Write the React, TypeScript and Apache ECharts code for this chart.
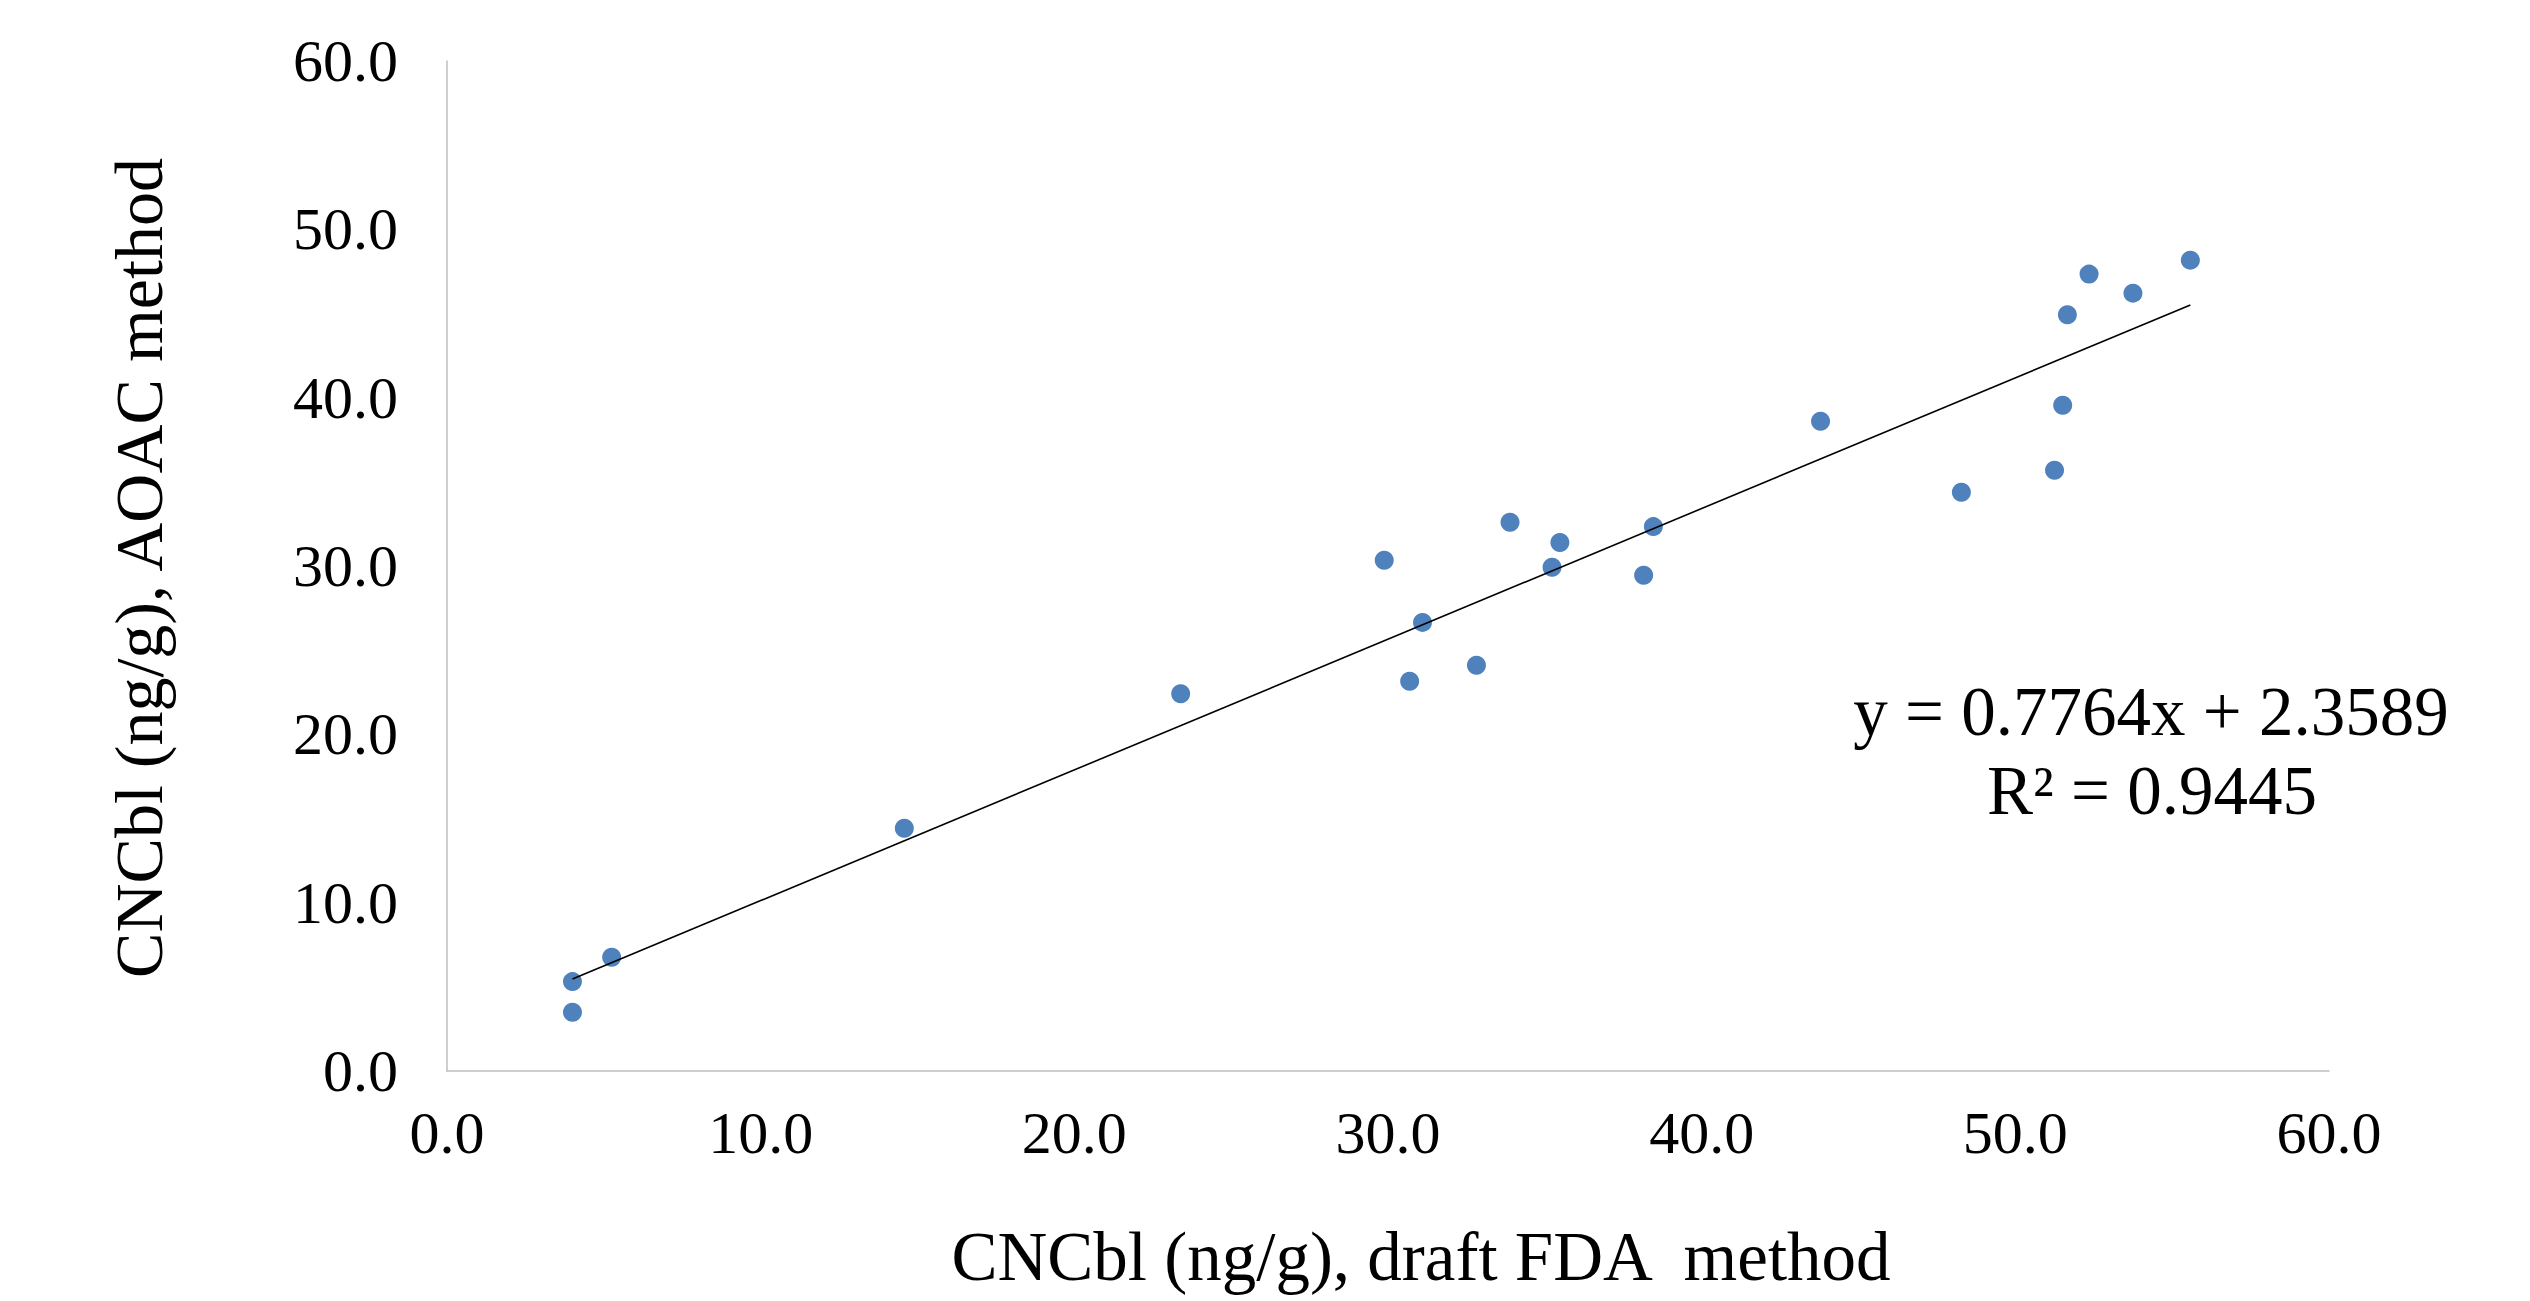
import React, { useEffect, useRef } from "react";
import * as echarts from "echarts";

// Data
const fdaValues: number[] = [4.0, 4.0, 5.25, 14.58, 23.39, 29.88, 30.69, 31.1, 32.82, 33.89, 35.23, 35.48, 38.15, 38.46, 43.79, 48.28, 51.25, 51.51, 51.66, 52.35, 53.75, 55.58];
const aoacValues: number[] = [5.31, 3.49, 6.76, 14.42, 22.41, 30.34, 23.15, 26.65, 24.1, 32.6, 29.92, 31.39, 29.45, 32.34, 38.6, 34.38, 35.69, 39.55, 44.93, 47.34, 46.21, 48.17];

const trendSlope = 0.7764;
const trendIntercept = 2.3589;
const equationLines: string[] = ["y = 0.7764x + 2.3589", "R² = 0.9445"];

const xTitle = "CNCbl (ng/g), draft FDA  method";
const yTitle = "CNCbl (ng/g), AOAC method";

const axisMin = 0;
const axisMax = 60;
const axisInterval = 10;

const FONT = "'Liberation Serif', 'Times New Roman', serif";

export default function App() {
  const ref = useRef<HTMLDivElement>(null);

  useEffect(() => {
    if (!ref.current) return;
    const chart = echarts.init(ref.current, undefined, { renderer: "svg" });

    const points = fdaValues.map((x, i) => [x, aoacValues[i]]);
    const xMinData = Math.min(...fdaValues);
    const xMaxData = Math.max(...fdaValues);
    const trend = [
      [xMinData, trendSlope * xMinData + trendIntercept],
      [xMaxData, trendSlope * xMaxData + trendIntercept],
    ];

    const axisCommon = {
      type: "value" as const,
      min: axisMin,
      max: axisMax,
      interval: axisInterval,
      splitLine: { show: false },
      axisTick: { show: false },
      axisLine: { show: true, lineStyle: { color: "#BFBFBF", width: 1.5 } },
    };

    chart.setOption({
      animation: false,
      backgroundColor: "#ffffff",
      grid: { left: 447, right: 201, top: 61, bottom: 230, containLabel: false },
      xAxis: {
        ...axisCommon,
        axisLabel: {
          margin: 32,
          fontFamily: FONT,
          fontSize: 60,
          color: "#000000",
          formatter: (v: number) => v.toFixed(1),
        },
      },
      yAxis: {
        ...axisCommon,
        axisLabel: {
          margin: 49,
          fontFamily: FONT,
          fontSize: 60,
          color: "#000000",
          formatter: (v: number) => v.toFixed(1),
        },
      },
      series: [
        {
          type: "scatter",
          data: points,
          symbol: "circle",
          symbolSize: 19,
          itemStyle: { color: "#4F81BD", opacity: 1 },
        },
        {
          type: "line",
          data: trend,
          showSymbol: false,
          symbol: "none",
          lineStyle: { color: "#000000", width: 1.6 },
          z: 3,
        },
      ],
      graphic: [
        {
          type: "text",
          x: 1421,
          y: 1257,
          style: {
            text: xTitle,
            fontFamily: FONT,
            fontSize: 69,
            fill: "#000000",
            textAlign: "center",
            textVerticalAlign: "middle",
          },
        },
        {
          type: "text",
          x: 139,
          y: 568,
          rotation: Math.PI / 2,
          style: {
            text: yTitle,
            fontFamily: FONT,
            fontSize: 68,
            fill: "#000000",
            textAlign: "center",
            textVerticalAlign: "middle",
          },
        },
        {
          type: "text",
          x: 2151,
          y: 712,
          style: {
            text: equationLines[0],
            fontFamily: FONT,
            fontSize: 69,
            fill: "#000000",
            textAlign: "center",
            textVerticalAlign: "middle",
          },
        },
        {
          type: "text",
          x: 2152,
          y: 791,
          style: {
            text: equationLines[1],
            fontFamily: FONT,
            fontSize: 69,
            fill: "#000000",
            textAlign: "center",
            textVerticalAlign: "middle",
          },
        },
      ],
    });

    return () => {
      chart.dispose();
    };
  }, []);

  return (
    <div
      ref={ref}
      style={{ position: "absolute", left: 0, top: 0, width: 2530, height: 1301 }}
    />
  );
}
